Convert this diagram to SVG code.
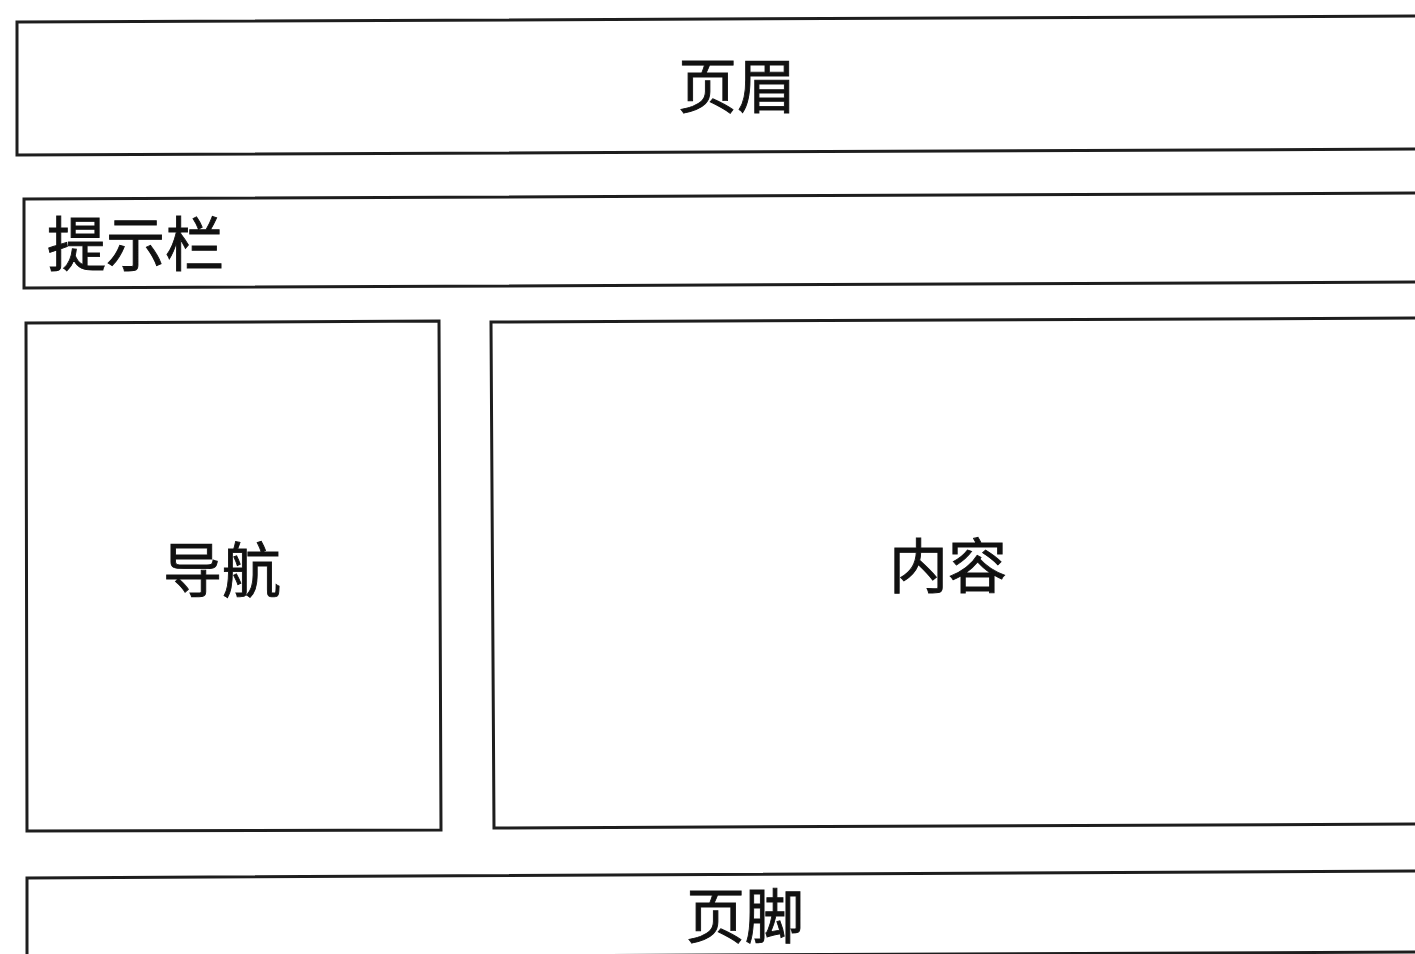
<svg xmlns="http://www.w3.org/2000/svg" width="1415" height="954" viewBox="0 0 1415 954">
<style>
.box{fill:#ffffff;stroke:#1e1e1e;stroke-width:3;stroke-linejoin:miter}
.lbl{font-family:"Noto Sans CJK SC","Noto Sans CJK JP",sans-serif;font-size:59px;fill:#111111;stroke:#111111;stroke-width:0.9}
.mid{text-anchor:middle}
</style>
<rect width="1415" height="954" fill="#ffffff"/>
<g id="header">
<polygon class="box" points="17,22 1425,16 1425,149 17,155"/>
<text class="lbl mid" x="737" y="108">页眉</text>
</g>
<g id="tipbar">
<polygon class="box" points="24,199 1425,193 1425,282 24,288"/>
<text class="lbl" x="47" y="266">提示栏</text>
</g>
<g id="nav">
<polygon class="box" points="26,323 439,321 441,830 27,831"/>
<text class="lbl mid" x="222" y="592">导航</text>
</g>
<g id="content">
<polygon class="box" points="491,322 1425,318 1425,824 494,828"/>
<text class="lbl mid" x="948" y="588">内容</text>
</g>
<g id="footer">
<polygon class="box" points="27,878 1425,871 1425,952 27,958"/>
<text class="lbl mid" x="745" y="938">页脚</text>
</g>
<g id="connectors"></g>
</svg>
